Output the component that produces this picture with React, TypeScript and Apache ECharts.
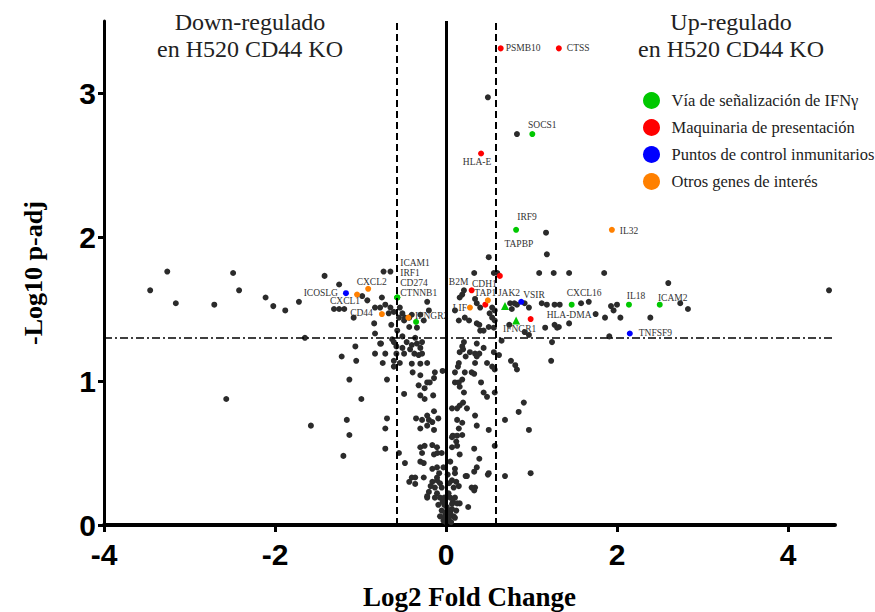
import React, { useEffect, useRef } from "react";
import * as echarts from "echarts";

// ---- axes / thresholds ----
const xTicks = [-4, -2, 0, 2, 4];
const yTicks = [0, 1, 2, 3];
const xRange: [number, number] = [-4, 4.55];
const yRange: [number, number] = [0, 3.5];
const foldChangeCutoff = 0.585; // log2(1.5)
const padjCutoff = 1.301; // -log10(0.05)

// ---- highlighted genes: [gene, log2FC, -log10 padj] ----
type Gene = [string, number, number];
const ifnPathway: Gene[] = [
  ["SOCS1", 1.01, 2.715],
  ["IRF9", 0.82, 2.05],
  ["CXCL16", 1.47, 1.53],
  ["IL18", 2.14, 1.53],
  ["ICAM2", 2.5, 1.53],
  ["ICAM1", -0.57, 1.58],
  ["IRF1", -0.57, 1.58],
  ["CD274", -0.57, 1.58],
  ["CTNNB1", -0.57, 1.58],
  ["IFNGR2", -0.35, 1.41],
  ["JAK2", 0.69, 1.52],
  ["IFNGR1", 0.82, 1.42],
];
const presentation: Gene[] = [
  ["PSMB10", 0.64, 3.31],
  ["CTSS", 1.32, 3.31],
  ["HLA-E", 0.41, 2.58],
  ["TAPBP", 0.63, 1.73],
  ["B2M", 0.3, 1.63],
  ["TAP1", 0.46, 1.53],
  ["HLA-DMA", 0.99, 1.43],
];
const checkpoints: Gene[] = [
  ["ICOSLG", -1.17, 1.61],
  ["VSIR", 0.88, 1.55],
  ["TNFSF9", 2.15, 1.33],
];
const otherGenes: Gene[] = [
  ["IL32", 1.94, 2.05],
  ["CXCL2", -0.91, 1.64],
  ["CXCL1", -1.04, 1.6],
  ["CD44", -0.75, 1.465],
  ["LIF", 0.28, 1.51],
  ["CDH1", 0.49, 1.56],
  ["", -0.44, 1.44],
];

// ---- all other genes: [log2FC, -log10 padj] ----
const backgroundGenes: [number, number][] = [
  [-3.46, 1.63], [-3.26, 1.76], [-3.16, 1.54], [-2.71, 1.53], [-2.49, 1.75], [-2.42, 1.63],
  [-2.11, 1.58], [-2.02, 1.52], [-1.88, 1.49], [-1.72, 1.55], [-1.65, 1.3], [-2.57, 0.875],
  [-1.42, 1.73], [-1.25, 1.67], [-0.73, 1.76], [-0.65, 1.76], [-0.98, 1.59], [-0.92, 1.56],
  [-1.31, 1.5], [-1.25, 1.5], [-1.19, 1.5], [-1.08, 1.44], [-0.83, 1.51], [-0.77, 1.51],
  [-0.75, 1.58], [-0.71, 1.53], [-0.65, 1.51], [-0.61, 1.48], [-0.67, 1.47], [-0.54, 1.51],
  [-0.51, 1.47], [-0.48, 1.44], [-0.43, 1.44], [-0.55, 1.44], [-0.4, 1.46], [-0.49, 1.42],
  [-0.22, 1.55], [-0.2, 1.49], [-0.3, 1.46], [-0.26, 1.42], [-0.64, 1.39], [-0.43, 1.375],
  [-0.34, 1.37], [-0.57, 1.35], [-0.51, 1.31], [-0.36, 1.3], [-0.84, 1.4], [-0.83, 1.33],
  [-0.77, 1.26], [-1.06, 1.24], [-0.63, 1.29], [-0.34, 1.26], [-0.3, 1.23], [-0.58, 1.24],
  [-0.76, 1.26], [-0.61, 1.27], [-0.46, 1.27], [-0.4, 1.25], [-0.28, 1.27], [-0.51, 1.23],
  [-0.58, 1.19], [-0.71, 1.19], [-1.22, 1.17], [-1.05, 1.14], [-0.83, 1.19], [-0.74, 1.125],
  [-0.61, 1.14], [-0.61, 1.1], [-0.54, 1.125], [-0.49, 1.19], [-0.42, 1.22], [-0.37, 1.19],
  [-0.32, 1.18], [-0.28, 1.19], [-0.4, 1.12], [-0.3, 1.12], [-0.22, 1.125], [-0.13, 1.06],
  [-0.14, 1.02], [-0.04, 1.07], [-0.39, 1.06], [-0.3, 1.04], [-1.13, 1.01], [-0.69, 1.01],
  [-0.22, 0.99], [-0.19, 0.99], [-0.25, 0.95], [-0.32, 0.97], [-0.49, 0.91], [-0.3, 0.9],
  [-0.25, 0.875], [-0.15, 0.9], [-0.99, 0.875], [-1.16, 0.73], [-0.69, 0.74], [-0.35, 0.74],
  [-0.28, 0.73], [-0.22, 0.76], [-0.2, 0.73], [-0.16, 0.715], [-0.09, 0.74], [-0.14, 0.79],
  [-0.71, 0.67], [-0.3, 0.67], [-0.22, 0.69], [-0.14, 0.66], [-1.13, 0.625], [-1.58, 0.69],
  [-1.2, 0.48], [-0.71, 0.53],
  [-0.55, 0.5], [-0.48, 0.43], [-0.3, 0.54], [-0.25, 0.55], [-0.16, 0.555], [-0.105, 0.54],
  [-0.28, 0.5], [-0.14, 0.49], [-0.1, 0.5], [-0.05, 0.5], [0.07, 0.54], [0.13, 0.55],
  [0.16, 0.49], [0.08, 0.62], [0.13, 0.62], [0.19, 0.625], [0.12, 0.58], [0.33, 0.53],
  [0.39, 0.46], [0.36, 0.4], [-0.3, 0.44], [-0.26, 0.43], [-0.16, 0.39], [-0.105, 0.4],
  [0.105, 0.39], [0.105, 0.36], [0.33, 0.37], [0.245, 0.34], [0.5, 0.36], [0.69, 0.34],
  [0.99, 0.36], [-0.4, 0.33], [-0.43, 0.3], [-0.36, 0.285], [-0.26, 0.33], [-0.16, 0.3],
  [-0.105, 0.31], [-0.07, 0.29], [-0.13, 0.26], [-0.05, 0.26], [0.035, 0.29], [0.07, 0.31],
  [0.12, 0.3], [0.09, 0.26], [0.34, 0.26], [0.33, 0.24], [-0.2, 0.23], [-0.105, 0.22],
  [-0.07, 0.19], [-0.02, 0.19], [-0.22, 0.19], [-0.13, 0.19], [0.05, 0.19], [0.105, 0.19],
  [0.16, 0.15], [0.08, 0.16], [-0.02, 0.14], [0.01, 0.125], [0.035, 0.1], [-0.05, 0.1],
  [0.05, 0.083], [-0.01, 0.07], [-0.07, 0.06], [0.09, 0.06], [0.105, 0.05], [-0.02, 0.05],
  [0.035, 0.05], [0.26, 0.125], [0.07, 0.146], [0.3, 0.26], [0.13, 0.15], [-0.22, 0.2],
  [-0.36, 0.33], [-0.105, 0.33], [0.0, 0.02], [0.02, 0.03], [-0.03, 0.03], [0.06, 0.02],
  [0.0, 0.09], [0.07, 0.11], [-0.04, 0.16], [0.03, 0.22], [-0.09, 0.14], [0.12, 0.1],
  [0.02, 0.35], [-0.03, 0.4], [0.05, 0.44], [-0.08, 0.36], [0.15, 0.27], [-0.18, 0.27],
  [0.21, 1.27], [0.16, 1.2], [0.2, 1.22], [0.28, 1.2], [0.23, 1.17], [0.34, 1.19],
  [0.39, 1.19], [0.36, 1.17], [0.56, 1.2], [0.62, 1.18], [0.15, 1.125], [0.14, 1.1],
  [0.34, 1.125], [0.48, 1.125], [0.54, 1.1], [0.57, 1.08], [0.105, 1.06], [0.22, 1.06],
  [0.3, 1.06], [0.33, 1.05], [0.76, 1.14], [0.81, 1.11], [0.83, 1.08], [1.23, 1.14],
  [0.105, 0.99], [0.15, 0.99], [0.19, 1.01], [0.16, 0.96], [0.41, 0.99], [0.21, 0.92],
  [0.44, 0.92], [0.48, 0.89], [0.57, 0.92], [0.07, 0.81], [0.13, 0.81], [0.16, 0.83],
  [0.2, 0.85], [0.245, 0.81], [0.34, 0.76], [0.13, 0.73], [0.19, 0.71], [0.69, 0.73],
  [0.85, 0.785], [0.91, 0.85], [0.97, 0.66], [0.36, 0.69], [0.15, 0.67], [0.5, 0.66],
  [0.07, 0.61], [0.57, 0.55], [0.49, 0.35], [0.23, 0.34],
  [0.33, 1.75], [0.5, 1.86], [0.56, 1.75], [0.6, 1.75], [1.09, 1.75], [1.26, 1.75],
  [1.44, 1.75], [1.85, 1.75], [1.18, 1.88], [1.17, 2.03], [0.49, 2.97], [0.83, 2.715],
  [0.21, 1.63], [0.19, 1.6], [0.16, 1.58], [0.105, 1.49], [0.34, 1.57], [0.36, 1.54],
  [0.4, 1.51], [0.54, 1.51], [0.57, 1.49], [0.51, 1.47], [0.54, 1.44], [0.57, 1.42],
  [0.75, 1.54], [0.8, 1.54], [0.83, 1.53], [0.92, 1.54], [0.97, 1.51], [0.77, 1.5],
  [1.12, 1.54], [1.18, 1.53], [1.27, 1.53], [1.33, 1.53], [0.15, 1.42], [0.22, 1.44],
  [0.27, 1.42], [0.36, 1.4], [0.39, 1.39], [0.4, 1.35], [0.44, 1.35], [0.5, 1.375],
  [0.56, 1.37], [0.65, 1.28], [0.74, 1.39], [0.92, 1.34], [0.97, 1.32], [1.16, 1.37],
  [1.27, 1.39], [1.3, 1.37], [0.19, 1.24], [0.36, 1.26], [0.44, 1.23], [1.24, 1.27],
  [1.58, 1.54], [1.67, 1.55], [1.75, 1.465], [1.44, 1.4], [1.32, 1.375], [1.86, 1.44],
  [1.91, 1.31], [1.93, 1.52], [1.96, 1.49], [2.0, 1.53], [2.04, 1.44], [2.39, 1.44],
  [2.6, 1.68], [2.74, 1.54], [2.83, 1.5], [4.48, 1.63],
];

const triangleGenes = ["JAK2", "IFNGR1"];

// label placement (style only)
const labelPlacement: Record<string, { position: string; offset: [number, number] }> = {
  PSMB10: { position: "right", offset: [-3, 0] },
  CTSS: { position: "right", offset: [0, 0] },
  SOCS1: { position: "top", offset: [10, 3.5] },
  "HLA-E": { position: "bottom", offset: [-4, -4.5] },
  IRF9: { position: "top", offset: [11, 0] },
  IL32: { position: "right", offset: [0, 1] },
  TAPBP: { position: "top", offset: [19, -18.5] },
  B2M: { position: "top", offset: [-13, 4.5] },
  CDH1: { position: "top", offset: [-3.5, -3.5] },
  TAP1: { position: "top", offset: [0, 1.5] },
  LIF: { position: "left", offset: [5, 0] },
  JAK2: { position: "top", offset: [4, 1] },
  VSIR: { position: "right", offset: [-6, -7] },
  IFNGR1: { position: "bottom", offset: [3.5, -5.5] },
  "HLA-DMA": { position: "right", offset: [8, -4] },
  CXCL16: { position: "top", offset: [12.5, 1.5] },
  IL18: { position: "top", offset: [7, 4.5] },
  ICAM2: { position: "top", offset: [13, 6.5] },
  TNFSF9: { position: "right", offset: [1, 0] },
  ICOSLG: { position: "left", offset: [0, 0] },
  CXCL2: { position: "top", offset: [3.5, 6.5] },
  CXCL1: { position: "bottom", offset: [-12, -6.5] },
  CD44: { position: "left", offset: [-1, -1] },
  CTNNB1: { position: "right", offset: [-5, -4] },
  CD274: { position: "right", offset: [-5, -14] },
  IRF1: { position: "right", offset: [-5, -24] },
  ICAM1: { position: "right", offset: [-5, -34] },
  IFNGR2: { position: "right", offset: [-9, -6] },
};

const SERIF = '"Liberation Serif", "Times New Roman", serif';
const SANS = '"Liberation Sans", Arial, sans-serif';

function geneSeries(name: string, color: string, genes: Gene[]) {
  return {
    type: "scatter",
    name,
    itemStyle: { color, opacity: 1 },
    symbolSize: 6,
    z: 3,
    label: {
      show: true,
      formatter: "{b}",
      fontSize: 9.5,
      fontFamily: SERIF,
      color: "#333",
      distance: 5,
    },
    data: genes.map(([g, x, y]) => {
      const p = labelPlacement[g];
      const tri = triangleGenes.includes(g);
      return {
        name: g,
        value: [x, y],
        symbol: tri ? "triangle" : "circle",
        symbolSize: tri ? 8 : 6,
        label: p ? { show: true, position: p.position, offset: p.offset } : { show: false },
      };
    }),
  };
}

export default function App() {
  const ref = useRef<HTMLDivElement>(null);
  useEffect(() => {
    const chart = echarts.init(ref.current!, null, { renderer: "svg" });
    const option: any = {
      animation: false,
      backgroundColor: "#fff",
      grid: {
        left: 104,
        right: 40,
        top: 21,
        bottom: 87,
        containLabel: false,
        outerBoundsMode: "none",
      },
      legend: {
        data: [
          "Vía de señalización de IFNγ",
          "Maquinaria de presentación",
          "Puntos de control inmunitarios",
          "Otros genes de interés",
        ],
        orient: "vertical",
        left: 643,
        top: 92,
        icon: "circle",
        itemWidth: 30,
        itemHeight: 17,
        itemGap: 10,
        padding: 0,
        textStyle: { fontFamily: SERIF, fontSize: 16.5, color: "#222", lineHeight: 17 },
      },
      graphic: [
        {
          type: "text",
          x: 250,
          y: 8,
          style: {
            text: "Down-regulado\nen H520 CD44 KO",
            align: "center",
            verticalAlign: "top",
            fontFamily: SERIF,
            fontSize: 24,
            lineHeight: 27,
            fill: "#222",
          },
        },
        {
          type: "text",
          x: 731,
          y: 8,
          style: {
            text: "Up-regulado\nen H520 CD44 KO",
            align: "center",
            verticalAlign: "top",
            fontFamily: SERIF,
            fontSize: 24,
            lineHeight: 27,
            fill: "#222",
          },
        },
      ],
      xAxis: {
        type: "value",
        min: xRange[0],
        max: xRange[1],
        splitLine: { show: false },
        axisLine: { show: true, onZero: false, lineStyle: { color: "#000", width: 4 } },
        axisTick: { show: true, length: 7, customValues: xTicks, lineStyle: { color: "#000", width: 3 } },
        axisLabel: {
          customValues: xTicks,
          margin: 14,
          fontSize: 30,
          fontWeight: "bold",
          fontFamily: SANS,
          color: "#000",
        },
        name: "Log2 Fold Change",
        nameLocation: "middle",
        nameGap: 58,
        nameTextStyle: { fontSize: 27, fontWeight: "bold", fontFamily: SERIF, color: "#000" },
      },
      yAxis: {
        type: "value",
        min: yRange[0],
        max: yRange[1],
        splitLine: { show: false },
        axisLine: { show: true, onZero: false, lineStyle: { color: "#000", width: 3 } },
        axisTick: { show: true, length: 6, customValues: yTicks, lineStyle: { color: "#000", width: 3 } },
        axisLabel: {
          customValues: yTicks,
          margin: 8,
          fontSize: 30,
          fontWeight: "bold",
          fontFamily: SANS,
          color: "#000",
        },
        name: "-Log10 p-adj",
        nameLocation: "middle",
        nameGap: 58,
        nameTextStyle: { fontSize: 26, fontWeight: "bold", fontFamily: SERIF, color: "#000" },
      },
      series: [
        {
          type: "scatter",
          name: "Otros",
          symbolSize: 6,
          itemStyle: { color: "#2b2b2b", opacity: 1 },
          z: 2,
          data: backgroundGenes,
          markLine: {
            silent: true,
            symbol: ["none", "none"],
            label: { show: false },
            animation: false,
            data: [
              { xAxis: 0, lineStyle: { color: "#000", width: 3, type: "solid" } },
              { xAxis: -foldChangeCutoff, lineStyle: { color: "#000", width: 2, type: [7, 4] } },
              { xAxis: foldChangeCutoff, lineStyle: { color: "#000", width: 2, type: [7, 4] } },
              { yAxis: padjCutoff, lineStyle: { color: "#000", width: 1.6, type: [8, 3, 2, 3] } },
            ],
          },
        },
        geneSeries("Vía de señalización de IFNγ", "#00c800", ifnPathway),
        geneSeries("Maquinaria de presentación", "#ff0000", presentation),
        geneSeries("Puntos de control inmunitarios", "#0000ff", checkpoints),
        geneSeries("Otros genes de interés", "#ff8000", otherGenes),
      ],
    };
    chart.setOption(option);
    return () => chart.dispose();
  }, []);
  return (
    <div
      ref={ref}
      style={{ position: "fixed", left: 0, top: 0, width: 875, height: 612, background: "#fff" }}
    />
  );
}
